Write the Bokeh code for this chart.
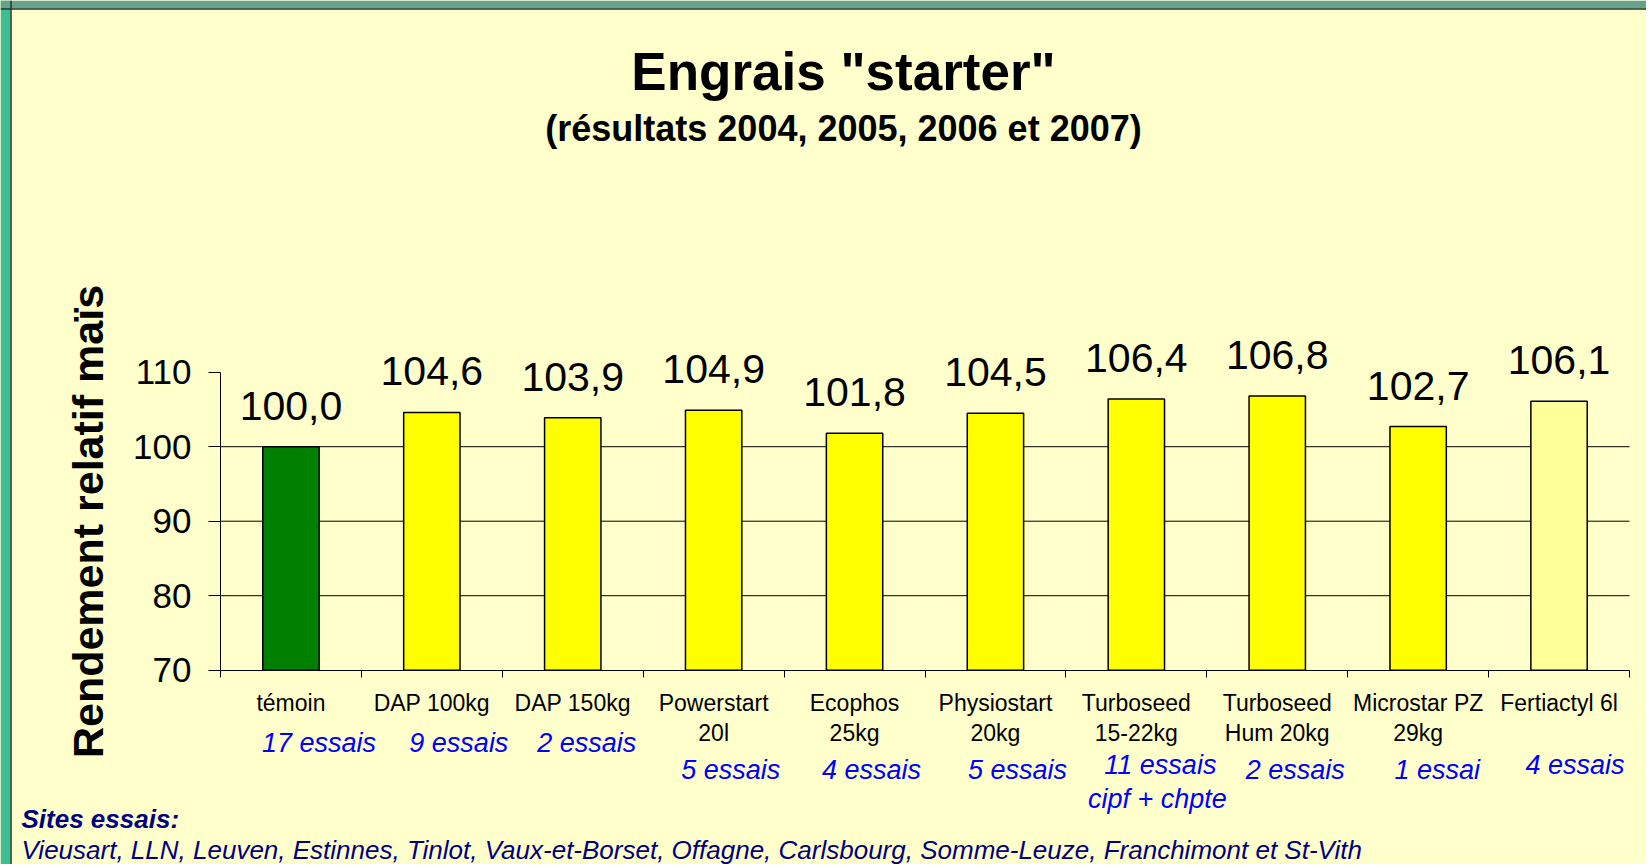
from bokeh.plotting import figure
from bokeh.models import (ColumnDataSource, FixedTicker, LabelSet, Label, Range1d,
                          BoxAnnotation, Span)
from bokeh.core.properties import value
from bokeh.embed import file_html
from bokeh.resources import INLINE

# ---------------- data ----------------
categories = ["témoin", "DAP 100kg", "DAP 150kg", "Powerstart\n20l", "Ecophos\n25kg",
              "Physiostart\n20kg", "Turboseed\n15-22kg", "Turboseed\nHum 20kg",
              "Microstar PZ\n29kg", "Fertiactyl 6l"]
values = [100.0, 104.6, 103.9, 104.9, 101.8, 104.5, 106.4, 106.8, 102.7, 106.1]
trials = ["17 essais", "9 essais", "2 essais", "5 essais", "4 essais", "5 essais",
          "11 essais", "2 essais", "1 essai", "4 essais"]
trials_note = {6: "cipf + chpte"}
y_ticks = [70, 80, 90, 100, 110]
grid_values = [80, 90, 100]
title_text = 'Engrais "starter"'
subtitle_text = "(résultats 2004, 2005, 2006 et 2007)"
sites_title = "Sites essais:"
sites_text = ("Vieusart, LLN, Leuven, Estinnes, Tinlot, Vaux-et-Borset, Offagne, "
              "Carlsbourg, Somme-Leuze, Franchimont et St-Vith")

# ---------------- styles / layout ----------------
FONT = "Liberation Sans"
BG = "#FFFFCC"
BLUE = "#0000FF"
NAVY = "#000080"
bar_colors = ["#008000"] + ["#FFFF00"] * 8 + ["#FFFF99"]

W, H = 1646, 864
AX_L, AX_R = 220, 1629          # pixel extent of the category axis
AX_T, AX_B = 371.7, 669.7       # pixel extent of the value axis (110 .. 70)
YMIN, YMAX = 70, 110
n = len(categories)
ux = (AX_R - AX_L) / n
uy = (AX_B - AX_T) / (YMAX - YMIN)

def px_x(px):
    return (px - AX_L) / ux

def px_y(py):
    return YMIN + (AX_B - py) / uy

p = figure(width=W, height=H, output_backend="svg", toolbar_location=None, title=None,
           x_range=Range1d(px_x(0), px_x(W)), y_range=Range1d(px_y(H), px_y(0)),
           min_border=0)
p.background_fill_color = BG
p.border_fill_color = BG
p.outline_line_color = None
p.xgrid.visible = False
p.ygrid.visible = False

# slide frame (green border on the left and top)
p.add_layout(BoxAnnotation(right=px_x(10), fill_color="#3DBE93", fill_alpha=1,
                           line_color=None, level="underlay"))
p.add_layout(BoxAnnotation(bottom=px_y(8), fill_color="#66A38A", fill_alpha=1,
                           line_color=None, level="underlay"))
p.add_layout(Span(location=px_x(10.5), dimension="height", line_color="#1E3A2C",
                  line_width=1.5, level="underlay"))
p.add_layout(Span(location=px_y(8.5), dimension="width", line_color="#1E3A2C",
                  line_width=1.5, level="underlay"))

centers = [i + 0.5 for i in range(n)]

# horizontal grid lines limited to the plotting area
gsrc = ColumnDataSource(dict(x0=[0] * len(grid_values), x1=[n] * len(grid_values),
                             y=grid_values))
p.segment(x0="x0", x1="x1", y0="y", y1="y", source=gsrc, line_color="black",
          line_width=1)

src = ColumnDataSource(dict(x=centers, top=values, color=bar_colors,
                            lab=[f"{v:.1f}".replace(".", ",") for v in values]))
p.vbar(x="x", top="top", bottom=YMIN, width=0.4, fill_color="color",
       line_color="black", line_width=1.5, source=src)

# y axis
ya = p.yaxis[0]
ya.fixed_location = 0
ya.bounds = (YMIN, YMAX)
ya.ticker = FixedTicker(ticks=y_ticks)
ya.axis_line_color = "black"
ya.major_tick_line_color = "black"
ya.major_tick_out = 12
ya.major_tick_in = 0
ya.minor_tick_line_color = None
ya.major_label_standoff = 17
ya.major_label_text_font = FONT
ya.major_label_text_font_size = "35px"
ya.major_label_text_color = "black"
ya.axis_label = "Rendement relatif maïs"
ya.axis_label_text_font = FONT
ya.axis_label_text_font_style = "bold"
ya.axis_label_text_font_size = "43px"
ya.axis_label_text_color = "black"
ya.axis_label_standoff = 18

# x axis: labels at category centres, tick marks at category boundaries
xa = p.xaxis[0]
xa.fixed_location = YMIN
xa.bounds = (0, n)
xa.ticker = FixedTicker(ticks=centers, minor_ticks=list(range(n + 1)))
xa.major_label_overrides = {c: lab for c, lab in zip(centers, categories)}
xa.axis_line_color = "black"
xa.major_tick_line_color = None
xa.major_tick_out = 0
xa.major_tick_in = 0
xa.minor_tick_line_color = "black"
xa.minor_tick_out = 7
xa.minor_tick_in = 0
xa.major_label_standoff = 13
xa.major_label_text_font = FONT
xa.major_label_text_font_size = "23px"
xa.major_label_text_color = "black"
xa.major_label_text_line_height = 1.15

# value labels above bars
p.add_layout(LabelSet(x="x", y="top", text="lab", source=src, y_offset=27,
                      text_align="center", text_baseline="alphabetic",
                      text_font=value(FONT), text_font_size=value("41px"),
                      text_color="black"))

# number of trials (blue italic)
trial_dx = [28, 27, 14, 17, 17, 22, 24, 18, 19, 16]
trial_mid = [742, 742, 742, 769, 769, 769, 764, 769, 769, 764]
for i, t in enumerate(trials):
    p.add_layout(Label(x=centers[i], y=px_y(trial_mid[i]), x_offset=trial_dx[i], text=t,
                       text_align="center", text_baseline="middle",
                       text_font=FONT, text_font_size="27px", text_font_style="italic",
                       text_color=BLUE))
for i, t in trials_note.items():
    p.add_layout(Label(x=centers[i], y=px_y(798), x_offset=21, text=t,
                       text_align="center", text_baseline="middle",
                       text_font=FONT, text_font_size="27px", text_font_style="italic",
                       text_color=BLUE))

# titles
p.add_layout(Label(x=px_x(843), y=px_y(71), text=title_text, text_align="center",
                   text_baseline="middle", text_font=FONT, text_font_size="53px",
                   text_font_style="bold", text_color="black"))
p.add_layout(Label(x=px_x(843), y=px_y(128), text=subtitle_text, text_align="center",
                   text_baseline="middle", text_font=FONT, text_font_size="36px",
                   text_font_style="bold", text_color="black"))

# sites
p.add_layout(Label(x=px_x(21), y=px_y(818), text=sites_title, text_align="left",
                   text_baseline="middle", text_font=FONT, text_font_size="26px",
                   text_font_style="bold italic", text_color=NAVY))
p.add_layout(Label(x=px_x(21), y=px_y(849), text=sites_text, text_align="left",
                   text_baseline="middle", text_font=FONT, text_font_size="26px",
                   text_font_style="italic", text_color=NAVY))

open("out.html", "w").write(file_html(p, INLINE))
